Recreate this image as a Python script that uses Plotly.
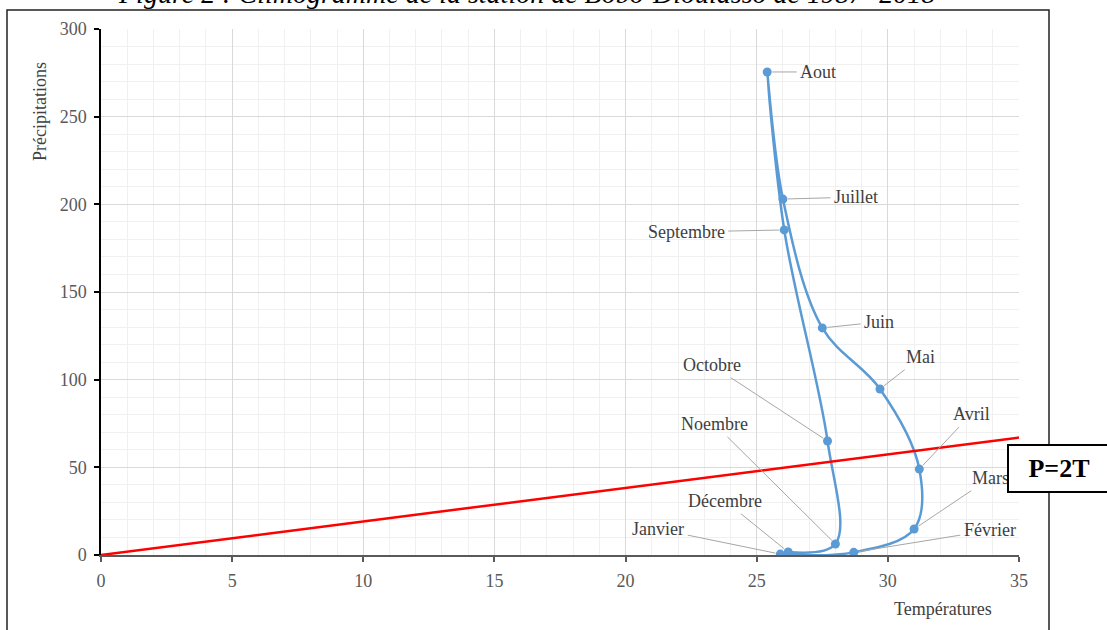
import plotly.graph_objects as go

months = ["Janvier", "Février", "Mars", "Avril", "Mai", "Juin", "Juillet",
          "Aout", "Septembre", "Octobre", "Noembre", "Décembre"]
temperatures = [25.9, 28.7, 31.0, 31.2, 29.7, 27.5, 26.0, 25.4, 26.05, 27.7, 28.0, 26.2]
precipitations = [0.5, 1.5, 14.8, 49.0, 94.7, 129.5, 203.0, 275.5, 185.4, 65.0, 6.3, 1.7]
# label offsets (pixels) for the data labels with leader lines
label_dx = [-122, 136, 76, 52, 41, 57, 73, 51, -98, -116, -121, -63]
label_dy = [-25, -22, -51, -55, -32, -6, -2, 0, 2, -76, -120, -51]

line_t = [0, 35]
line_p = [0, 67]

x_ticks = [0, 5, 10, 15, 20, 25, 30, 35]
y_ticks = [0, 50, 100, 150, 200, 250, 300]

W, H = 1107, 630
L, R, T, B = 101, 1107 - 1019, 29, 630 - 555
pw, ph = W - L - R, H - T - B

def px(xp):
    return (xp - L) / pw

def py(yp):
    return (H - B - yp) / ph

serif = "Liberation Serif, Times New Roman, serif"

fig = go.Figure()
fig.add_trace(go.Scatter(
    x=temperatures, y=precipitations, mode="lines+markers",
    line=dict(color="#5b9bd5", width=2.5, shape="spline", smoothing=1),
    marker=dict(color="#5b9bd5", size=9),
    hoverinfo="skip", showlegend=False))
fig.add_trace(go.Scatter(
    x=line_t, y=line_p, mode="lines",
    line=dict(color="#ff0000", width=2.5),
    hoverinfo="skip", showlegend=False))

annotations = []
for m, t, p, dx, dy in zip(months, temperatures, precipitations, label_dx, label_dy):
    annotations.append(dict(
        x=t, y=p, xref="x", yref="y", text=m, showarrow=True,
        ax=dx, ay=dy, arrowhead=0, arrowwidth=1, arrowcolor="#a6a6a6",
        standoff=5, startstandoff=2,
        font=dict(family=serif, size=18, color="#404040")))

annotations.append(dict(
    x=px(40), y=py(111), xref="paper", yref="paper", text="Précipitations",
    textangle=-90, showarrow=False, xanchor="center", yanchor="middle",
    font=dict(family=serif, size=18, color="#404040")))
annotations.append(dict(
    x=px(943), y=py(609), xref="paper", yref="paper", text="Températures",
    showarrow=False, xanchor="center", yanchor="middle",
    font=dict(family=serif, size=18, color="#404040")))
annotations.append(dict(
    x=px(526), y=py(-7), xref="paper", yref="paper",
    text="Figure 2 : Climogramme de la station de Bobo-Dioulasso de 1987- 2018",
    showarrow=False, xanchor="center", yanchor="middle",
    font=dict(family=serif, size=28, color="#000000", style="italic")))
annotations.append(dict(
    x=px(1007), y=py(468.5), xref="paper", yref="paper", text="<b>P=2T</b>",
    showarrow=False, xanchor="left", yanchor="middle",
    width=96, height=41, align="center", valign="middle",
    bgcolor="white", bordercolor="black", borderwidth=2, borderpad=2,
    font=dict(family=serif, size=26, color="#000000")))

shapes = [dict(
    type="rect", xref="paper", yref="paper",
    x0=px(7), x1=px(1049), y0=py(650), y1=py(10),
    line=dict(color="#222222", width=1.5), layer="above")]

fig.update_layout(
    width=W, height=H,
    margin=dict(l=L, r=R, t=T, b=B, pad=0),
    paper_bgcolor="white", plot_bgcolor="white",
    annotations=annotations, shapes=shapes,
    xaxis=dict(range=[0, 35], tickvals=x_ticks, ticktext=[str(v) for v in x_ticks],
               showgrid=True, gridcolor="#d9d9d9", gridwidth=1,
               minor=dict(dtick=1, showgrid=True, gridcolor="#f0f0f0", gridwidth=1),
               showline=True, linecolor="#595959", linewidth=1.5,
               ticks="outside", ticklen=5, tickcolor="#595959", tickwidth=1.5,
               ticklabelstandoff=4,
               zeroline=False, fixedrange=True,
               tickfont=dict(family=serif, size=18, color="#595959")),
    yaxis=dict(range=[0, 300], tickvals=y_ticks, ticktext=[str(v) for v in y_ticks],
               showgrid=True, gridcolor="#d9d9d9", gridwidth=1,
               minor=dict(dtick=10, showgrid=True, gridcolor="#f0f0f0", gridwidth=1),
               showline=True, linecolor="#000000", linewidth=1.5,
               ticks="outside", ticklen=5, tickcolor="#000000", tickwidth=1.5,
               ticklabelstandoff=4,
               zeroline=False, fixedrange=True,
               tickfont=dict(family=serif, size=18, color="#595959")),
)

fig.write_html("out.html", config={"displayModeBar": False},
               post_script="document.body.style.margin='0';")
